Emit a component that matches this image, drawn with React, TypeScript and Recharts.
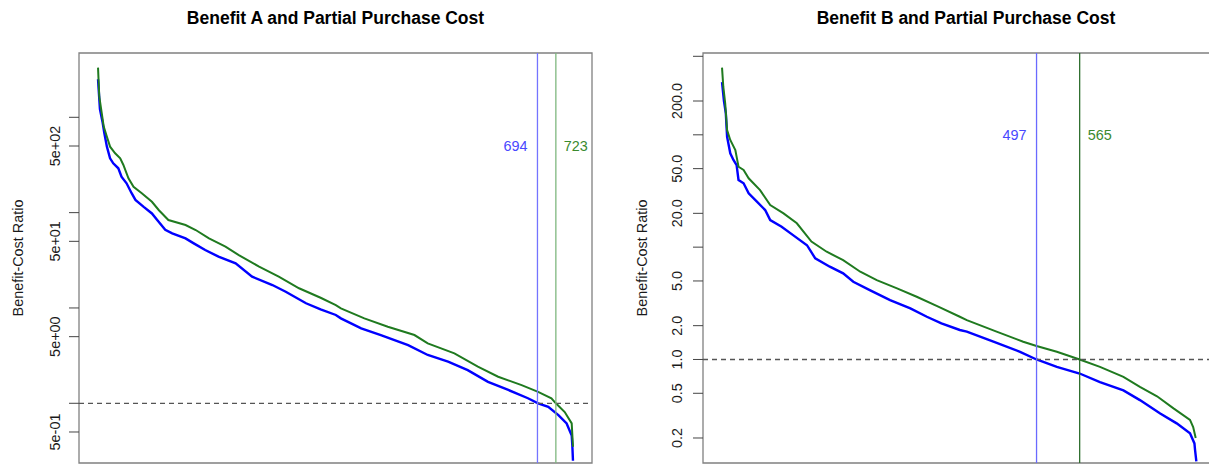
import {
  ComposedChart,
  Line,
  XAxis,
  YAxis,
  ReferenceLine,
  ReferenceDot,
  ReferenceArea,
} from "recharts";

const FONT = '"Liberation Sans", Arial, Helvetica, sans-serif';

// Benefit A panel (ranked projects)
const aBlueRank = [1, 4, 8, 11, 15, 20, 25, 33, 38, 46, 54, 60, 73, 86, 94, 107, 118, 139, 152, 170, 191, 218, 244, 276, 297, 329, 352, 376, 384, 416, 447, 490, 521, 553, 584, 616, 648, 679, 695, 711, 727, 740, 748, 749, 750];
const aBlueRatio = [2506, 1222, 900, 679, 492, 371, 329, 292, 238, 203, 160, 136, 115, 98, 84, 66, 60.6, 53.7, 47.6, 40.6, 34.5, 29.4, 21.3, 17.4, 14.8, 11.2, 9.66, 8.44, 7.78, 6.11, 5.2, 4.08, 3.21, 2.73, 2.23, 1.68, 1.38, 1.13, 1.0, 0.92, 0.75, 0.615, 0.46, 0.36, 0.25];
const aGreenRank = [1, 3, 10, 15, 20, 28, 36, 41, 49, 57, 70, 86, 97, 112, 139, 155, 176, 202, 223, 255, 286, 318, 352, 376, 384, 421, 458, 500, 521, 563, 600, 632, 669, 695, 716, 723, 737, 748, 750];
const aGreenRatio = [3319, 1645, 798, 626, 492, 419, 371, 316, 229, 187, 160, 130, 106, 83.6, 74.1, 65.7, 53.7, 43.9, 35.9, 27.1, 21.3, 16.1, 12.8, 10.7, 9.9, 7.78, 6.36, 5.2, 4.25, 3.34, 2.42, 1.9, 1.55, 1.32, 1.13, 1.0, 0.81, 0.615, 0.35];

// Benefit B panel
const bBlueRank = [1, 4, 7, 9, 14, 19, 24, 27, 35, 43, 56, 69, 77, 95, 113, 135, 148, 171, 192, 208, 234, 266, 298, 324, 347, 376, 387, 429, 471, 497, 529, 565, 597, 634, 660, 692, 718, 739, 746, 747, 749];
const bBlueRatio = [294, 201, 155, 96, 68.4, 59.7, 53.8, 39.6, 37, 30.1, 25.4, 21.4, 17.4, 15.2, 12.8, 10.4, 7.95, 6.7, 5.85, 4.92, 4.15, 3.38, 2.85, 2.4, 2.1, 1.83, 1.77, 1.44, 1.17, 1.0, 0.86, 0.75, 0.63, 0.53, 0.435, 0.33, 0.27, 0.22, 0.179, 0.156, 0.124];
const bGreenRank = [1, 3, 6, 9, 14, 22, 27, 35, 43, 61, 77, 98, 119, 142, 166, 192, 219, 245, 277, 308, 342, 376, 387, 434, 476, 497, 529, 565, 597, 634, 660, 687, 713, 739, 744, 748];
const bGreenRatio = [396, 268, 191, 110, 90, 73.3, 52, 48.6, 41, 32.2, 23.7, 20, 16.3, 11.2, 9.1, 7.67, 6.04, 5.09, 4.3, 3.62, 2.95, 2.4, 2.24, 1.77, 1.44, 1.32, 1.17, 1.0, 0.86, 0.7, 0.57, 0.47, 0.367, 0.29, 0.25, 0.2];

const aTicks = [0.5, 1, 5, 10, 50, 100, 500, 1000];
const aTickLabels = ["5e-01", "", "5e+00", "", "5e+01", "", "5e+02", ""];
const bTicks = [0.2, 0.5, 1, 2, 5, 10, 20, 50, 100, 200, 500];
const bTickLabels = ["0.2", "0.5", "1.0", "2.0", "5.0", "", "20.0", "50.0", "", "200.0", ""];

const aCutoffs = [694, 723];
const bCutoffs = [497, 565];

const toRows = (ranks: number[], ratios: number[]) =>
  ranks.map((rank, i) => ({ rank, ratio: ratios[i] }));

const X_DOMAIN: [number, number] = [-29, 780];

type PanelProps = {
  left: number;
  width: number;
  plotLeft: number;
  plotRight: number;
  domain: [number, number];
  ticks: number[];
  labels: string[];
  labelOffset: number;
  blue: { rank: number; ratio: number }[];
  green: { rank: number; ratio: number }[];
  cuts: number[];
  cutLabelY: number;
  blueLine: string;
  greenLine: string;
};

const Panel = (p: PanelProps) => {
  const labelFor = new Map(p.ticks.map((t, i) => [t, p.labels[i]]));
  const renderTick = (props: any) => {
    const { x, y, payload } = props;
    const text = labelFor.get(payload.value);
    if (!text) return <g />;
    const bx = x - p.labelOffset;
    return (
      <text
        x={bx}
        y={y}
        transform={`rotate(-90 ${bx} ${y})`}
        textAnchor="middle"
        fontSize={14.4}
        fontFamily={FONT}
        fill="#1a1a1a"
      >
        {text}
      </text>
    );
  };

  return (
    <div style={{ position: "absolute", left: p.left, top: 0 }}>
      <ComposedChart
        width={p.width}
        height={465}
        margin={{ top: 53, right: p.width - p.plotRight, bottom: 2, left: 0 }}
      >
        <XAxis type="number" dataKey="rank" domain={X_DOMAIN} allowDataOverflow hide />
        <YAxis
          type="number"
          scale="log"
          domain={p.domain}
          allowDataOverflow
          ticks={p.ticks}
          interval={0}
          width={p.plotLeft}
          axisLine={false}
          tickLine={{ stroke: "#444" }}
          tickSize={10}
          tickMargin={0}
          tick={renderTick}
        />
        <ReferenceArea
          x1={X_DOMAIN[0]}
          x2={X_DOMAIN[1]}
          y1={p.domain[0]}
          y2={p.domain[1]}
          fill="none"
          stroke="#808080"
          strokeWidth={1.3}
          ifOverflow="visible"
        />
        <Line
          data={p.blue}
          dataKey="ratio"
          type="linear"
          stroke="#0000ff"
          strokeWidth={2.4}
          dot={false}
          isAnimationActive={false}
        />
        <Line
          data={p.green}
          dataKey="ratio"
          type="linear"
          stroke="#1f7a1f"
          strokeWidth={2}
          dot={false}
          isAnimationActive={false}
        />
        <ReferenceLine y={1} stroke="#555" strokeDasharray="5 4" strokeWidth={1.3} />
        <ReferenceLine x={p.cuts[0]} stroke={p.blueLine} strokeWidth={1.3} />
        <ReferenceLine x={p.cuts[1]} stroke={p.greenLine} strokeWidth={1.3} />
        <ReferenceDot
          x={p.cuts[0]}
          y={p.cutLabelY}
          r={0}
          fill="none"
          stroke="none"
          label={{
            value: String(p.cuts[0]),
            position: "left",
            offset: 10,
            fill: "#4848ff",
            fontSize: 14.4,
            fontFamily: FONT,
          }}
        />
        <ReferenceDot
          x={p.cuts[1]}
          y={p.cutLabelY}
          r={0}
          fill="none"
          stroke="none"
          label={{
            value: String(p.cuts[1]),
            position: "right",
            offset: 8,
            fill: "#3a8a2e",
            fontSize: 14.4,
            fontFamily: FONT,
          }}
        />
      </ComposedChart>
    </div>
  );
};

const Title = ({ cx, text }: { cx: number; text: string }) => (
  <div
    style={{
      position: "absolute",
      left: cx - 250,
      top: 7,
      width: 500,
      textAlign: "center",
      fontFamily: FONT,
      fontWeight: "bold",
      fontSize: 17.5,
      lineHeight: "22px",
      color: "#000",
    }}
  >
    {text}
  </div>
);

const YTitle = ({ cx, cy }: { cx: number; cy: number }) => (
  <div
    style={{
      position: "absolute",
      left: cx - 100,
      top: cy - 10,
      width: 200,
      height: 20,
      lineHeight: "20px",
      textAlign: "center",
      fontFamily: FONT,
      fontSize: 14.4,
      color: "#1a1a1a",
      transform: "rotate(-90deg)",
    }}
  >
    Benefit-Cost Ratio
  </div>
);

export default function App() {
  return (
    <div
      style={{
        position: "absolute",
        left: 0,
        top: 0,
        width: 1209,
        height: 465,
        overflow: "hidden",
        background: "#fff",
      }}
    >
      <Panel
        left={0}
        width={600}
        plotLeft={79}
        plotRight={592}
        domain={[0.2364, 4727]}
        ticks={aTicks}
        labels={aTickLabels}
        labelOffset={9}
        blue={toRows(aBlueRank, aBlueRatio)}
        green={toRows(aGreenRank, aGreenRatio)}
        cuts={aCutoffs}
        cutLabelY={500}
        blueLine="#7474ff"
        greenLine="#7fb87f"
      />
      <Panel
        left={620}
        width={600}
        plotLeft={83}
        plotRight={596}
        domain={[0.1198, 535]}
        ticks={bTicks}
        labels={bTickLabels}
        labelOffset={11}
        blue={toRows(bBlueRank, bBlueRatio)}
        green={toRows(bGreenRank, bGreenRatio)}
        cuts={bCutoffs}
        cutLabelY={100}
        blueLine="#6a6aff"
        greenLine="#2f6f2f"
      />
      <Title cx={335.5} text="Benefit A and Partial Purchase Cost" />
      <Title cx={966} text="Benefit B and Partial Purchase Cost" />
      <YTitle cx={18} cy={258} />
      <YTitle cx={641.5} cy={258} />
    </div>
  );
}
